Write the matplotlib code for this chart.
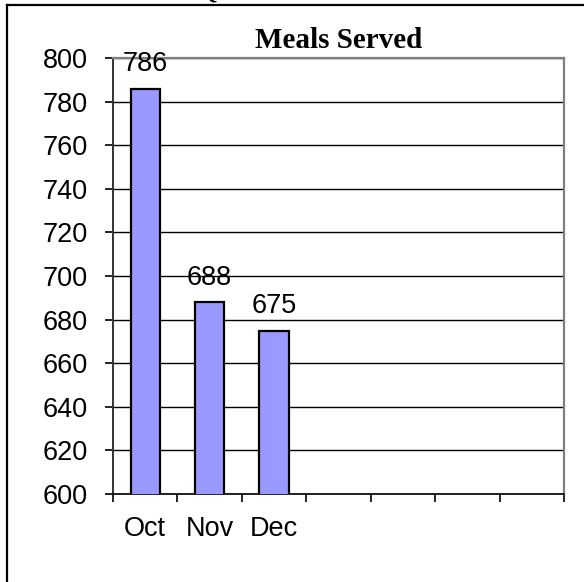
import matplotlib
matplotlib.use('Agg')
import matplotlib.pyplot as plt
from matplotlib.lines import Line2D

# ---- data ----
months = ['Oct', 'Nov', 'Dec']
meals = [786, 688, 675]
n_slots = 7                      # category slots on the axis (only 3 used)
y_ticks = [600, 620, 640, 660, 680, 700, 720, 740, 760, 780, 800]
title = 'Meals Served'

W, H = 584, 582
fig = plt.figure(figsize=(W / 100, H / 100), dpi=100)
fig.patch.set_facecolor('white')

ax = fig.add_axes([113 / W, 1 - 494 / H, (564 - 113) / W, (494 - 58) / H])

x = list(range(len(months)))
bars = ax.bar(x, meals, width=0.4545, color='#9999FF', edgecolor='black',
              linewidth=1.6, zorder=3)
ax.bar_label(bars, labels=[str(v) for v in meals], padding=8,
             fontsize=19.5, family='Liberation Sans', color='black', zorder=5)
for t in ax.texts:
    t.set_clip_on(False)

ax.set_ylim(y_ticks[0], y_ticks[-1])
ax.set_xlim(-0.5, n_slots - 0.5)

ax.set_yticks(y_ticks)
ax.set_yticklabels([str(v) for v in y_ticks], fontsize=19.5, family='Liberation Sans')
ax.tick_params(axis='y', direction='out', length=6, width=1.2, pad=12, colors='black')

ax.set_xticks([i - 0.5 for i in range(n_slots + 1)])
ax.set_xticklabels([])
ax.set_xticks(x, minor=True)
ax.set_xticklabels(months, minor=True, fontsize=19.5, family='Liberation Sans')
ax.tick_params(axis='x', which='major', direction='out', length=6, width=1.2)
ax.tick_params(axis='x', which='minor', length=0, pad=16)

ax.yaxis.grid(True, color='black', linewidth=1.0, zorder=1)
ax.set_axisbelow(True)

for s in ('top', 'right'):
    ax.spines[s].set_color('#808080')
    ax.spines[s].set_linewidth(1.6)
ax.spines['left'].set_color('#333333')
ax.spines['left'].set_linewidth(1.4)
ax.spines['bottom'].set_color('black')
ax.spines['bottom'].set_linewidth(1.2)

fig.text(339 / W, 1 - 48 / H, title, ha='center', va='baseline',
         fontsize=21, fontweight='bold', family='Liberation Serif')

# fragment of a heading above the chart, cut off by the picture's top edge
fig.text(196 / W, 1 + 3 / H, 'Q', ha='left', va='baseline',
         fontsize=21, family='Liberation Serif')

# outer border (chart object frame, clipped at right/bottom)
fig.add_artist(Line2D([7 / W, 7 / W], [0, 1 - 5 / H], color='black', linewidth=1.6,
                      transform=fig.transFigure))
fig.add_artist(Line2D([7 / W, 1], [1 - 5 / H, 1 - 5 / H], color='black', linewidth=1.6,
                      transform=fig.transFigure))

fig.savefig('out.png', dpi=100)
